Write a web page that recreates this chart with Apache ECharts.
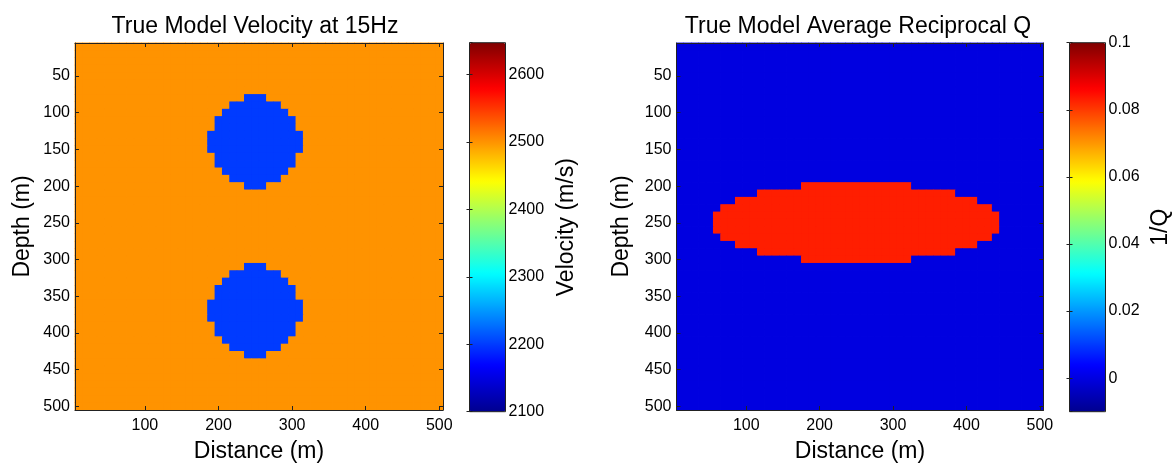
<!DOCTYPE html>
<html>
<head>
<meta charset="utf-8">
<title>True Model</title>
<script src="https://cdn.jsdelivr.net/npm/echarts@6/dist/echarts.min.js"></script>
<style>
    html, body { margin: 0; padding: 0; background: #fff; }
    #chart { width: 1175px; height: 470px; }
</style>
</head>
<body>
<div id="chart"></div>
<script>
// grid cell centres (m), 10 m cells
const distances = [10,20,30,40,50,60,70,80,90,100,110,120,130,140,150,160,170,180,190,200,
    210,220,230,240,250,260,270,280,290,300,310,320,330,340,350,360,370,380,390,400,
    410,420,430,440,450,460,470,480,490,500]
const depths = [10,20,30,40,50,60,70,80,90,100,110,120,130,140,150,160,170,180,190,200,
    210,220,230,240,250,260,270,280,290,300,310,320,330,340,350,360,370,380,390,400,
    410,420,430,440,450,460,470,480,490,500]

// velocity model: background and the two slow bodies (row spans)
const velBackground = 2500
const velAnomaly = 2200
const circleRowsTop = [80,90,100,110,120,130,140,150,160,170,180,190,200]
const circleRowsBottom = [310,320,330,340,350,360,370,380,390,400,410,420,430]
const circleFrom = [240,220,210,200,200,190,190,190,200,200,210,220,240]
const circleTo = [260,280,290,300,300,310,310,310,300,300,290,280,260]

// 1/Q model: background and the attenuating lens
const qBackground = 0
const qAnomaly = 0.083
const ellipseRows = [200,210,220,230,240,250,260,270,280,290,300]
const ellipseFrom = [180,120,90,70,60,60,60,70,90,120,180]
const ellipseTo = [320,380,410,430,440,440,440,430,410,380,320]

// colour bar limits
const velRange = [2100, 2647]
const qRange = [-0.01, 0.1]

const jet = ['#00008f','#0000ff','#0080ff','#00ffff','#80ff80','#ffff00','#ff8000','#ff0000','#800000']
const font = "'Liberation Sans', Arial, sans-serif"

function buildGrid(bg, val, bodies) {
    const data = []
    depths.forEach((d, r) => {
        distances.forEach((x, c) => {
            let v = bg
            bodies.forEach(b => {
                const i = b.rows.indexOf(d)
                if (i >= 0 && x >= b.from[i] && x <= b.to[i]) v = val
            })
            data.push([c, r, v])
        })
    })
    return data
}

const velData = buildGrid(velBackground, velAnomaly, [
    { rows: circleRowsTop, from: circleFrom, to: circleTo },
    { rows: circleRowsBottom, from: circleFrom, to: circleTo }
])
const qData = buildGrid(qBackground, qAnomaly, [
    { rows: ellipseRows, from: ellipseFrom, to: ellipseTo }
])

const lineStyle = { color: '#222', width: 1 }
const labelStyle = { color: '#000', fontSize: 16, fontFamily: font }
const nameStyle = { color: '#000', fontSize: 23, fontFamily: font }

function catX(grid, pos, labels) {
    return {
        type: 'category', gridIndex: grid, position: pos, data: distances, z: 3,
        axisLine: { show: true, lineStyle: lineStyle },
        axisTick: { show: true, inside: true, length: 4, alignWithLabel: true,
            interval: (i, v) => Number(v) % 100 === 0, lineStyle: lineStyle },
        axisLabel: { show: labels, margin: 8, interval: (i, v) => Number(v) % 100 === 0, ...labelStyle },
        splitLine: { show: false },
        name: labels ? 'Distance (m)' : '', nameLocation: 'middle', nameGap: 30, nameTextStyle: nameStyle
    }
}
function catY(grid, pos, labels, gap) {
    return {
        type: 'category', gridIndex: grid, position: pos, data: depths, inverse: true, z: 3,
        axisLine: { show: true, lineStyle: lineStyle },
        axisTick: { show: true, inside: true, length: 4, alignWithLabel: true,
            interval: (i, v) => Number(v) % 50 === 0, lineStyle: lineStyle },
        axisLabel: { show: labels, margin: 5, interval: (i, v) => Number(v) % 50 === 0, ...labelStyle },
        splitLine: { show: false },
        name: labels ? 'Depth (m)' : '', nameLocation: 'middle', nameRotate: 90, nameGap: gap, nameTextStyle: nameStyle
    }
}
function barY(grid, pos, range, labels, name, gap, interval) {
    const ax = {
        type: 'value', gridIndex: grid, position: pos, min: range[0], max: range[1], z: 3,
        axisLine: { show: false },
        axisTick: { show: true, inside: true, length: 3, lineStyle: lineStyle },
        axisLabel: { show: labels, margin: 3, showMinLabel: interval ? true : false, showMaxLabel: interval ? false : true,
            formatter: v => String(v), ...labelStyle },
        splitLine: { show: false },
        name: name, nameLocation: 'middle', nameRotate: 90, nameGap: gap, nameTextStyle: nameStyle
    }
    if (interval) ax.interval = interval
    else ax.splitNumber = 5
    return ax
}

// heatmap drawn twice over itself so the cell seams don't show through
function heat(xi, yi, data) {
    return { type: 'heatmap', xAxisIndex: xi, yAxisIndex: yi, data: data, progressive: 0,
        emphasis: { disabled: true } }
}

const chart = echarts.init(document.getElementById('chart'))
chart.setOption({
    animation: false,
    title: [
        { text: 'True Model Velocity at 15Hz', left: 255, top: 15, textAlign: 'center', padding: 0,
            textStyle: { color: '#000', fontSize: 23, fontWeight: 'normal', fontFamily: font } },
        { text: 'True Model Average Reciprocal Q', left: 858, top: 15, textAlign: 'center', padding: 0,
            textStyle: { color: '#000', fontSize: 23, fontWeight: 'normal', fontFamily: font } }
    ],
    grid: [
        { left: 75, top: 43, width: 368, height: 367 },
        { left: 676.5, top: 43, width: 367, height: 367 },
        { left: 469.5, top: 42.7, width: 36, height: 369, show: true, z: 5, borderColor: '#222', borderWidth: 1, backgroundColor: 'transparent' },
        { left: 1069.5, top: 42.7, width: 36, height: 369, show: true, z: 5, borderColor: '#222', borderWidth: 1, backgroundColor: 'transparent' }
    ],
    xAxis: [
        catX(0, 'bottom', true), catX(0, 'top', false),
        catX(1, 'bottom', true), catX(1, 'top', false),
        { type: 'value', gridIndex: 2, show: false, min: 0, max: 1 },
        { type: 'value', gridIndex: 3, show: false, min: 0, max: 1 }
    ],
    yAxis: [
        catY(0, 'left', true, 41), catY(0, 'right', false, 0),
        catY(1, 'left', true, 43), catY(1, 'right', false, 0),
        barY(2, 'right', velRange, true, 'Velocity (m/s)', 50, 100),
        barY(2, 'left', velRange, false, '', 0, 100),
        barY(3, 'right', qRange, true, '1/Q', 44, null),
        barY(3, 'left', qRange, false, '', 0, null)
    ],
    visualMap: [
        { type: 'continuous', seriesIndex: [0, 1], min: velRange[0], max: velRange[1], inRange: { color: jet },
            left: 469.5, top: 42.7, itemWidth: 36, itemHeight: 369, padding: 0, calculable: false,
            hoverLink: false, z: 1 },
        { type: 'continuous', seriesIndex: [2, 3], min: qRange[0], max: qRange[1], inRange: { color: jet },
            left: 1069.5, top: 42.7, itemWidth: 36, itemHeight: 369, padding: 0, calculable: false,
            hoverLink: false, z: 1 }
    ],
    series: [
        heat(0, 0, velData), heat(0, 0, velData),
        heat(2, 2, qData), heat(2, 2, qData)
    ]
})
</script>
</body>
</html>
